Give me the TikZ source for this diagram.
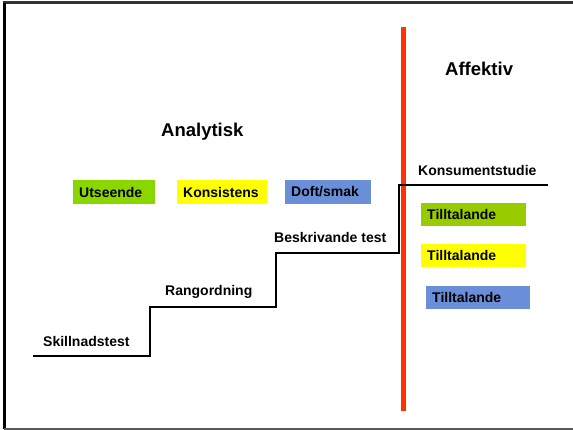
\documentclass[tikz,border=0pt]{standalone}
\usepackage{fontspec}
\setmainfont{Liberation Sans}
\usetikzlibrary{positioning}

\definecolor{leafgreen}{HTML}{8CD600}
\definecolor{olivegreen}{HTML}{99CC00}
\definecolor{tagyellow}{HTML}{FFFF00}
\definecolor{tagblue}{HTML}{6A8ED8}
\definecolor{splitred}{HTML}{FF3300}

\tikzset{
  colbox/.style={anchor=west, inner xsep=6pt, inner ysep=0pt, minimum height=24pt,
    text width=#1, align=left, font=\bfseries\fontsize{14}{16}\selectfont},
  colbox/.default=70pt,
  steplabel/.style={anchor=base west, inner sep=0pt, font=\bfseries\fontsize{14}{16}\selectfont},
  headline/.style={anchor=base west, inner sep=0pt, font=\bfseries\fontsize{18.5}{21}\selectfont},
}

\begin{document}
\begin{tikzpicture}[x=1pt,y=-1pt]
\useasboundingbox (0,0) rectangle (573,430);

% ----------------- frame -----------------
\draw[line width=3pt, black!80] (3,3) -- (573,3);
\draw[line width=3pt] (4.5,3) -- (4.5,429);
\draw[line width=1.5pt, black!65] (4,429) -- (573,429);

% ----------------- headings -----------------
\node (analytisk) [headline] at (161,136.7) {Analytisk};
\node (affektiv) [headline] at (445,76) {Affektiv};

% ----------------- first row -----------------
\node (box1) [colbox=70pt, fill=leafgreen] at (73,192) {Utseende};
\node (box2) [colbox=78pt, fill=tagyellow] at (177,192) {Konsistens};
\node (box3) [colbox=74pt, fill=tagblue] at (285,192) {Doft/smak};

% ----------------- divider and stairs -----------------
\draw[line width=5pt, splitred] (403,27) -- (403,411);
\draw[line width=2.5pt] (33,356) -- (150,356) -- (150,307) -- (276,307)
  -- (276,253) -- (399,253) -- (399,185) -- (548,185);

\node (skill) [steplabel] at (43,347) {Skillnadstest};
\node (rang) [steplabel] at (165,296) {Rangordning};
\node (beskr) [steplabel] at (274,242.7) {Beskrivande test};
\node (konsum) [steplabel] at (418,175.7) {Konsumentstudie};

% ----------------- right column -----------------
\node (tilt1) [colbox=93pt, minimum height=23pt, fill=olivegreen] at (421,214.5) {Tilltalande};
\node (tilt2) [colbox=93pt, minimum height=23pt, fill=tagyellow, below=18pt of tilt1] {Tilltalande};
\node (tilt3) [colbox=92pt, minimum height=23pt, fill=tagblue, below=18pt of tilt2, xshift=4.5pt] {Tilltalande};

\end{tikzpicture}
\end{document}
